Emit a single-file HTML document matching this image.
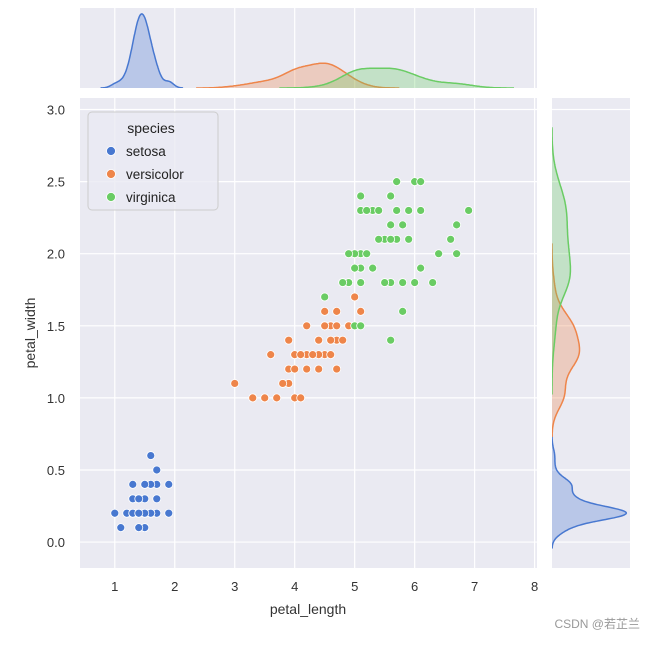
<!DOCTYPE html>
<html><head><meta charset="utf-8"><style>
body{margin:0;background:#fff;}
svg text{font-family:"Liberation Sans","Noto Sans CJK SC",sans-serif;}
</style></head><body>
<svg id="c" width="657" height="641" xmlns="http://www.w3.org/2000/svg"></svg>
<script>
const species = ["setosa","versicolor","virginica"];
const colors = ["#4878d0","#ee854a","#6acc64"];
const setosaLen = [1.4,1.4,1.3,1.5,1.4,1.7,1.4,1.5,1.4,1.5,1.5,1.6,1.4,1.1,1.2,1.5,1.3,1.4,1.7,1.5,1.7,1.5,1.0,1.7,1.9,1.6,1.6,1.5,1.4,1.6,1.6,1.5,1.5,1.4,1.5,1.2,1.3,1.4,1.3,1.5,1.3,1.3,1.3,1.6,1.9,1.4,1.6,1.4,1.5,1.4];
const setosaWid = [0.2,0.2,0.2,0.2,0.2,0.4,0.3,0.2,0.2,0.1,0.2,0.2,0.1,0.1,0.2,0.4,0.4,0.3,0.3,0.3,0.2,0.4,0.2,0.5,0.2,0.2,0.4,0.2,0.2,0.2,0.2,0.4,0.1,0.2,0.2,0.2,0.2,0.1,0.2,0.2,0.3,0.3,0.2,0.6,0.4,0.3,0.2,0.2,0.2,0.2];
const versiLen = [4.7,4.5,4.9,4.0,4.6,4.5,4.7,3.3,4.6,3.9,3.5,4.2,4.0,4.7,3.6,4.4,4.5,4.1,4.5,3.9,4.8,4.0,4.9,4.7,4.3,4.4,4.8,5.0,4.5,3.5,3.8,3.7,3.9,5.1,4.5,4.5,4.7,4.4,4.1,4.0,4.4,4.6,4.0,3.3,4.2,4.2,4.2,4.3,3.0,4.1];
const versiWid = [1.4,1.5,1.5,1.3,1.5,1.3,1.6,1.0,1.3,1.4,1.0,1.5,1.0,1.4,1.3,1.4,1.5,1.0,1.5,1.1,1.8,1.3,1.5,1.2,1.3,1.4,1.4,1.7,1.5,1.0,1.1,1.0,1.2,1.6,1.5,1.6,1.5,1.3,1.3,1.3,1.2,1.4,1.2,1.0,1.3,1.2,1.3,1.3,1.1,1.3];
const virgLen = [6.0,5.1,5.9,5.6,5.8,6.6,4.5,6.3,5.8,6.1,5.1,5.3,5.5,5.0,5.1,5.3,5.5,6.7,6.9,5.0,5.7,4.9,6.7,4.9,5.7,6.0,4.8,4.9,5.6,5.8,6.1,6.4,5.6,5.1,5.6,6.1,5.6,5.5,4.8,5.4,5.6,5.1,5.1,5.9,5.7,5.2,5.0,5.2,5.4,5.1];
const virgWid = [2.5,1.9,2.1,1.8,2.2,2.1,1.7,1.8,1.8,2.5,2.0,1.9,2.1,2.0,2.4,2.3,1.8,2.2,2.3,1.5,2.3,2.0,2.0,1.8,2.1,1.8,1.8,1.8,2.1,1.6,1.9,2.0,2.2,1.5,1.4,2.3,2.4,1.8,1.8,2.1,2.4,2.3,1.9,2.3,2.5,2.3,1.9,2.0,2.3,1.8];
const xTicks = [1,2,3,4,5,6,7,8];
const yTicks = [0.0,0.5,1.0,1.5,2.0,2.5,3.0];

const S = document.getElementById('c');
const NS = "http://www.w3.org/2000/svg";
function mk(tag, attrs, parent){const e=document.createElementNS(NS,tag);for(const k in attrs)e.setAttribute(k,attrs[k]);(parent||S).appendChild(e);return e;}

const M = {l:80,r:537,t:98,b:568};
const xmin=0.42,xmax=8.04,ymin=-0.18,ymax=3.08;
const X = v => M.l + (v-xmin)/(xmax-xmin)*(M.r-M.l);
const Y = v => M.b - (v-ymin)/(ymax-ymin)*(M.b-M.t);
const TOP = {t:8,b:88};
const RIGHT = {l:552,r:630};

const lens=[setosaLen,versiLen,virgLen], wids=[setosaWid,versiWid,virgWid];

let e;
e=mk('rect',{x:M.l,y:M.t,width:M.r-M.l,height:M.b-M.t,fill:'#eaeaf2'});


e=mk('rect',{x:M.l,y:TOP.t,width:M.r-M.l,height:TOP.b-TOP.t,fill:'#eaeaf2'});


e=mk('rect',{x:RIGHT.l,y:M.t,width:RIGHT.r-RIGHT.l,height:M.b-M.t,fill:'#eaeaf2'});



xTicks.forEach(t=>{
  const x=X(t);
  e=mk('line',{x1:x,x2:x,y1:M.t,y2:M.b,stroke:'#fff','stroke-width':1.2});
  
  
  e=mk('line',{x1:x,x2:x,y1:TOP.t,y2:TOP.b,stroke:'#fff','stroke-width':1.2});
  
  
  e=mk('text',{x:x,y:591,'text-anchor':'middle','font-size':13,fill:'#333'});
  e.textContent=t;
  
  
});
yTicks.forEach(t=>{
  const y=Y(t);
  e=mk('line',{x1:M.l,x2:M.r,y1:y,y2:y,stroke:'#fff','stroke-width':1.2});
  
  
  e=mk('line',{x1:RIGHT.l,x2:RIGHT.r,y1:y,y2:y,stroke:'#fff','stroke-width':1.2});
  
  
  e=mk('text',{x:65,y:y+5,'text-anchor':'end','font-size':13,fill:'#333'});
  e.textContent=t.toFixed(1);
  
  
});

function stats(a){const n=a.length,m=a.reduce((s,v)=>s+v,0)/n;const sd=Math.sqrt(a.reduce((s,v)=>s+(v-m)*(v-m),0)/(n-1));return {n,sd};}
function kde(a,grid){const {n,sd}=stats(a);const bw=sd*Math.pow(n,-0.2);return {bw,vals:grid.map(g=>{let s=0;for(const v of a){const z=(g-v)/bw;s+=Math.exp(-0.5*z*z);}return s/(n*bw*Math.sqrt(2*Math.PI));})};}
const N=150;
function curves(arrs){
  return arrs.map(a=>{
    const {n,sd}=stats(a);const bw=sd*Math.pow(n,-0.2);
    const lo=Math.min(...a)-3*bw, hi=Math.max(...a)+3*bw;
    const grid=[];for(let i=0;i<=200;i++)grid.push(lo+(hi-lo)*i/200);
    const k=kde(a,grid);
    return {grid,vals:k.vals.map(v=>v*n/N)};
  });
}
const topC=curves(lens), rightC=curves(wids);
const topMax=Math.max(...topC.map(c=>Math.max(...c.vals)))*1.08;
const rightMax=Math.max(...rightC.map(c=>Math.max(...c.vals)))*1.05;
const clipT=mk('clipPath',{id:'ct'});mk('rect',{x:M.l,y:TOP.t,width:M.r-M.l,height:TOP.b-TOP.t},clipT);
const clipR=mk('clipPath',{id:'cr'});mk('rect',{x:RIGHT.l,y:M.t,width:RIGHT.r-RIGHT.l,height:M.b-M.t},clipR);
const gT=mk('g',{'clip-path':'url(#ct)'}), gR=mk('g',{'clip-path':'url(#cr)'});
topC.forEach((c,i)=>{
  const pts=c.grid.map((g,j)=>X(g).toFixed(1)+','+(TOP.b-c.vals[j]/topMax*(TOP.b-TOP.t)).toFixed(1));
  e=mk('polygon',{points:X(c.grid[0])+','+TOP.b+' '+pts.join(' ')+' '+X(c.grid[c.grid.length-1])+','+TOP.b,fill:colors[i],'fill-opacity':0.3},gT);
  
  
  e=mk('polyline',{points:pts.join(' '),fill:'none',stroke:colors[i],'stroke-width':1.5},gT);
  
  
});
rightC.forEach((c,i)=>{
  const pts=c.grid.map((g,j)=>(RIGHT.l+c.vals[j]/rightMax*(RIGHT.r-RIGHT.l)).toFixed(1)+','+Y(g).toFixed(1));
  e=mk('polygon',{points:RIGHT.l+','+Y(c.grid[0])+' '+pts.join(' ')+' '+RIGHT.l+','+Y(c.grid[c.grid.length-1]),fill:colors[i],'fill-opacity':0.3},gR);
  
  
  e=mk('polyline',{points:pts.join(' '),fill:'none',stroke:colors[i],'stroke-width':1.5},gR);
  
  
});

lens.forEach((a,i)=>{
  a.forEach((v,j)=>{
    e=mk('circle',{cx:X(v),cy:Y(wids[i][j]),r:4,fill:colors[i],stroke:'#fff','stroke-width':0.8});
    
    
  });
});

const lg=mk('g',{});


mk('rect',{x:88,y:112,width:130,height:98,rx:4,fill:'#eaeaf2','fill-opacity':0.8,stroke:'#ccc','stroke-width':1},lg);
e=mk('text',{x:151,y:133,'text-anchor':'middle','font-size':14,fill:'#222'},lg);
e.textContent='species';


species.forEach((s,i)=>{
  const y=151+i*23;
  e=mk('circle',{cx:111,cy:y,r:4.5,fill:colors[i],stroke:'#fff','stroke-width':0.8},lg);
  
  
  e=mk('text',{x:126,y:y+5,'font-size':13.5,fill:'#222'},lg);
  e.textContent=s;
  
  
});

e=mk('text',{x:308,y:614,'text-anchor':'middle','font-size':14,fill:'#333'});
e.textContent='petal_length';


e=mk('text',{x:0,y:0,'text-anchor':'middle','font-size':14,fill:'#333',transform:'translate(35,333) rotate(-90)'});
e.textContent='petal_width';


e=mk('text',{x:640,y:628,'text-anchor':'end','font-size':12,fill:'#999'});
e.textContent='CSDN @若芷兰';


</script>
</body></html>
